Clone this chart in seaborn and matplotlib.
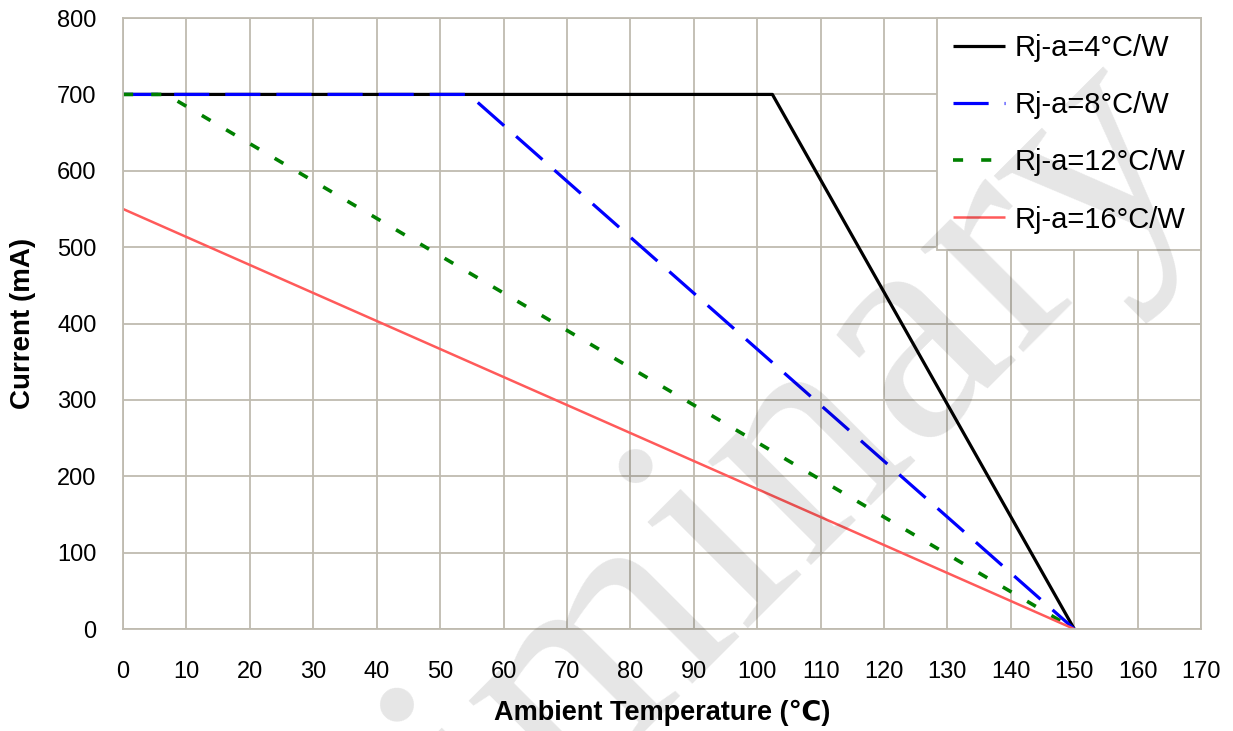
import matplotlib
matplotlib.use('Agg')
import matplotlib.pyplot as plt
import seaborn as sns

# derating curves: ambient temperature (C) vs max current (mA)
temp_4 = [0, 102.4, 150]
curr_4 = [700, 700, 0]
temp_8 = [0, 54.5, 150]
curr_8 = [700, 700, 0]
temp_12 = [0, 6.8, 150]
curr_12 = [700, 700, 0]
temp_16 = [0, 150]
curr_16 = [550, 0]

labels = ['Rj-a=4°C/W', 'Rj-a=8°C/W', 'Rj-a=12°C/W', 'Rj-a=16°C/W']
x_ticks = list(range(0, 171, 10))
y_ticks = list(range(0, 801, 100))

sns.set_style('white')
plt.rcParams['font.family'] = ['Liberation Sans', 'DejaVu Sans']
plt.rcParams['text.color'] = 'black'
plt.rcParams['axes.labelcolor'] = 'black'

grid_col = '#bfbbb0'

fig = plt.figure(figsize=(12.33, 7.31), dpi=100)
ax = fig.add_axes([0.0998, 0.1395, 0.8743, 0.8358])

sns.lineplot(x=temp_4, y=curr_4, ax=ax, color='black', lw=2.3,
             estimator=None, label=labels[0])
sns.lineplot(x=temp_8, y=curr_8, ax=ax, color='#0000ff', lw=2.3,
             estimator=None, label=labels[1], linestyle=(0, (11, 5)))
sns.lineplot(x=temp_12, y=curr_12, ax=ax, color='#008000', lw=2.6,
             estimator=None, label=labels[2], linestyle=(0, (2.8, 5)))
sns.lineplot(x=temp_16, y=curr_16, ax=ax, color='#ff5a5a', lw=1.8,
             estimator=None, label=labels[3])

for ln in ax.lines:
    ln.set_solid_capstyle('butt')
    ln.set_dash_capstyle('butt')

ax.set_xlim(0, 170)
ax.set_ylim(0, 800)
ax.set_xticks(x_ticks)
ax.set_yticks(y_ticks)
ax.tick_params(axis='both', length=0, labelsize=17, colors='black')
ax.tick_params(axis='x', pad=23)
ax.tick_params(axis='y', pad=19)
ax.grid(True, color=grid_col, lw=1.3)
ax.set_axisbelow(True)
for sp in ax.spines.values():
    sp.set_color(grid_col)
    sp.set_linewidth(1.3)

ax.set_xlabel('Ambient Temperature (℃)', fontsize=19.5, fontweight='bold', labelpad=12)
ax.set_ylabel('Current (mA)', fontsize=20, fontweight='bold', labelpad=15)

leg = ax.legend(loc='upper right', borderaxespad=0, fontsize=21, frameon=True,
                fancybox=False, handlelength=1.8, handletextpad=0.3,
                labelspacing=1.0, borderpad=0.55)
leg.get_frame().set_edgecolor(grid_col)
leg.get_frame().set_linewidth(1.3)
leg.get_frame().set_alpha(1)

# watermark
fig.text(0.545, 0.05, 'Preliminary', rotation=45, rotation_mode='anchor',
         ha='center', va='baseline', fontsize=230, family='Liberation Serif',
         color='black', alpha=0.1, zorder=10)

fig.savefig('out.png', dpi=100)
